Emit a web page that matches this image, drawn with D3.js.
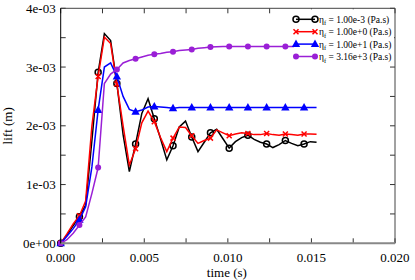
<!DOCTYPE html>
<html>
<head>
<meta charset="utf-8">
<script src="https://cdn.jsdelivr.net/npm/d3@7"></script>
<style>
  body { margin: 0; background: #fff; }
</style>
</head>
<body>
<div id="chart"></div>
<script>
var margin = {top: 8.3, left: 60.7, right: 20, bottom: 36.7},
    width  = 415 - margin.left - margin.right,
    height = 280 - margin.top  - margin.bottom;

// time in ms, lift in 1e-3 m
var times = [0, 0.373, 0.747, 1.12, 1.493, 1.867, 2.24, 2.613, 2.987, 3.36,
             3.733, 4.107, 4.48, 4.853, 5.227, 5.6, 5.973, 6.347, 6.72, 7.093,
             7.467, 7.84, 8.213, 8.587, 8.96, 9.333, 9.707, 10.08, 10.453, 10.827,
             11.2, 11.573, 11.947, 12.32, 12.693, 13.067, 13.44, 13.813, 14.187, 14.56,
             14.933, 15.307];

var lift_1e_3 = [0, 0.14, 0.30, 0.45, 0.65, 1.75, 2.91, 3.57, 3.45, 2.72,
                 1.85, 1.22, 1.69, 2.21, 2.46, 2.12, 1.78, 1.42, 1.66, 1.98,
                 2.08, 1.81, 1.56, 1.72, 1.88, 1.94, 1.78, 1.62, 1.73, 1.80,
                 1.84, 1.77, 1.72, 1.69, 1.63, 1.68, 1.75, 1.70, 1.66, 1.69,
                 1.73, 1.72];
var lift_1e0 = [0, 0.16, 0.33, 0.47, 0.72, 2.00, 2.84, 3.51, 3.40, 2.71,
                2.00, 1.33, 1.61, 2.05, 2.25, 2.07, 1.80, 1.56, 1.79, 1.98,
                1.97, 1.83, 1.70, 1.75, 1.79, 1.93, 1.88, 1.83, 1.86, 1.88,
                1.87, 1.85, 1.85, 1.87, 1.85, 1.84, 1.86, 1.85, 1.84, 1.86,
                1.86, 1.855];
var lift_1e1 = [0, 0.12, 0.25, 0.40, 0.62, 1.30, 2.27, 3.00, 3.07, 2.84,
                2.50, 2.28, 2.24, 2.27, 2.32, 2.33, 2.32, 2.31, 2.30, 2.31,
                2.31, 2.31, 2.31, 2.31, 2.31, 2.31, 2.31, 2.31, 2.31, 2.31,
                2.31, 2.31, 2.31, 2.31, 2.31, 2.31, 2.31, 2.31, 2.31, 2.31,
                2.31, 2.31];
var lift_316e3 = [0, 0.06, 0.17, 0.31, 0.45, 0.85, 1.29, 2.72, 2.88, 2.96,
                  3.07, 3.11, 3.14, 3.17, 3.20, 3.22, 3.23, 3.25, 3.26, 3.28,
                  3.29, 3.30, 3.32, 3.33, 3.34, 3.345, 3.35, 3.35, 3.35, 3.35,
                  3.35, 3.35, 3.35, 3.35, 3.35, 3.35, 3.35, 3.35, 3.35, 3.35,
                  3.35, 3.35];

var seriesNames = ["1.00e-3", "1.00e+0", "1.00e+1", "3.16e+3"];
var xTickLabels = ["0.000", "0.005", "0.010", "0.015", "0.020"];
var yTickLabels = ["0e+00", "1e-03", "2e-03", "3e-03", "4e-03"];

var series = [
  {name: seriesNames[0], values: lift_1e_3, color: "#000000", marker: "ocircle"},
  {name: seriesNames[1], values: lift_1e0, color: "#ff0000", marker: "cross"},
  {name: seriesNames[2], values: lift_1e1, color: "#0000ff", marker: "triangle"},
  {name: seriesNames[3], values: lift_316e3, color: "#9a1fd6", marker: "circle"}
];

var x = d3.scaleLinear().domain([0, 20]).range([0, width]),
    y = d3.scaleLinear().domain([0, 4]).range([height, 0]);

var svg = d3.select("#chart").append("svg")
    .attr("width", 415).attr("height", 280)
    .attr("font-family", "'Liberation Serif', 'Times New Roman', Times, serif");

var g = svg.append("g").attr("transform", "translate(" + margin.left + "," + margin.top + ")");

var line = d3.line()
    .x(function(d) { return x(d[0]); })
    .y(function(d) { return y(d[1]); });

function drawMarker(sel, type, color) {
  if (type == "ocircle") {
    sel.append("circle").attr("r", 3).attr("fill", "none")
      .attr("stroke", color).attr("stroke-width", 1.5);
  } else if (type == "circle") {
    sel.append("circle").attr("r", 3).attr("fill", color);
  } else if (type == "triangle") {
    sel.append("path").attr("d", "M0,-4.5L4.2,3L-4.2,3Z").attr("fill", color);
  } else {
    sel.append("path").attr("d", "M-2.5,-2.5L2.5,2.5M-2.5,2.5L2.5,-2.5")
      .attr("stroke", color).attr("stroke-width", 1.5);
  }
}

series.forEach(function(s) {
  var pts = times.map(function(t, i) { return [t, s.values[i]]; });
  g.append("path")
    .datum(pts)
    .attr("fill", "none")
    .attr("stroke", s.color)
    .attr("stroke-width", 1.5)
    .attr("d", line);
  g.selectAll(null)
    .data(pts.filter(function(d, i) { return i % 3 == 0; }))
    .enter().append("g")
    .attr("transform", function(d) { return "translate(" + x(d[0]) + "," + y(d[1]) + ")"; })
    .each(function() { drawMarker(d3.select(this), s.marker, s.color); });
});

// ticks inside on all four sides
var xt = d3.range(0, 20.01, 2.5), yt = d3.range(0, 4.01, 0.5);
var tk = g.append("g").attr("stroke", "#333").attr("stroke-width", 1);
xt.forEach(function(v) {
  tk.append("line").attr("x1", x(v)).attr("x2", x(v)).attr("y1", height).attr("y2", height - 5);
  tk.append("line").attr("x1", x(v)).attr("x2", x(v)).attr("y1", 0).attr("y2", 5);
});
yt.forEach(function(v) {
  tk.append("line").attr("y1", y(v)).attr("y2", y(v)).attr("x1", 0).attr("x2", 5);
  tk.append("line").attr("y1", y(v)).attr("y2", y(v)).attr("x1", width).attr("x2", width - 5);
});

// frame
g.append("line").attr("x1", 0).attr("x2", width).attr("y1", 0).attr("y2", 0).attr("stroke", "#444");
g.append("line").attr("x1", width).attr("x2", width).attr("y1", 0).attr("y2", height).attr("stroke", "#444");
g.append("line").attr("x1", 0).attr("x2", width).attr("y1", height).attr("y2", height)
  .attr("stroke", "#888").attr("stroke-width", 2);
g.append("line").attr("x1", 0).attr("x2", 0).attr("y1", 0).attr("y2", height).attr("stroke", "#000");

// tick labels
g.selectAll(".xl").data(xTickLabels).enter().append("text")
  .attr("x", function(d, i) { return x(i * 5); })
  .attr("y", height + 19)
  .attr("text-anchor", "middle")
  .attr("font-size", 13)
  .text(function(d) { return d; });
g.selectAll(".yl").data(yTickLabels).enter().append("text")
  .attr("x", -5)
  .attr("y", function(d, i) { return y(i) + 4.5; })
  .attr("text-anchor", "end")
  .attr("font-size", 13)
  .text(function(d) { return d; });

// axis titles
g.append("text").attr("x", width / 2 - 1).attr("y", height + 33.5)
  .attr("text-anchor", "middle").attr("font-size", 13).text("time (s)");
g.append("text").attr("transform", "translate(-49," + (height / 2) + ") rotate(-90)")
  .attr("text-anchor", "middle").attr("font-size", 13).text("lift (m)");

// legend
var lg = g.append("g").attr("transform", "translate(" + (294 - margin.left) + ",1)");
lg.append("rect").attr("width", width - (294 - margin.left) - 1).attr("height", 54).attr("fill", "#fff");
series.forEach(function(s, i) {
  var row = lg.append("g").attr("transform", "translate(0," + (10 + i * 12.4) + ")");
  row.append("line").attr("x1", 2).attr("x2", 21).attr("stroke", s.color).attr("stroke-width", 1.5);
  drawMarker(row.append("g").attr("transform", "translate(2,0)"), s.marker, s.color);
  drawMarker(row.append("g").attr("transform", "translate(21,0)"), s.marker, s.color);
  var t = row.append("text").attr("x", 25).attr("y", 3.5).attr("font-size", 9.5);
  t.append("tspan").text("\u03b7");
  t.append("tspan").attr("font-size", 6.5).attr("dy", 2.5).text("f");
  t.append("tspan").attr("dy", -2.5).text(" = " + s.name + " (Pa.s)");
});
</script>
</body>
</html>
